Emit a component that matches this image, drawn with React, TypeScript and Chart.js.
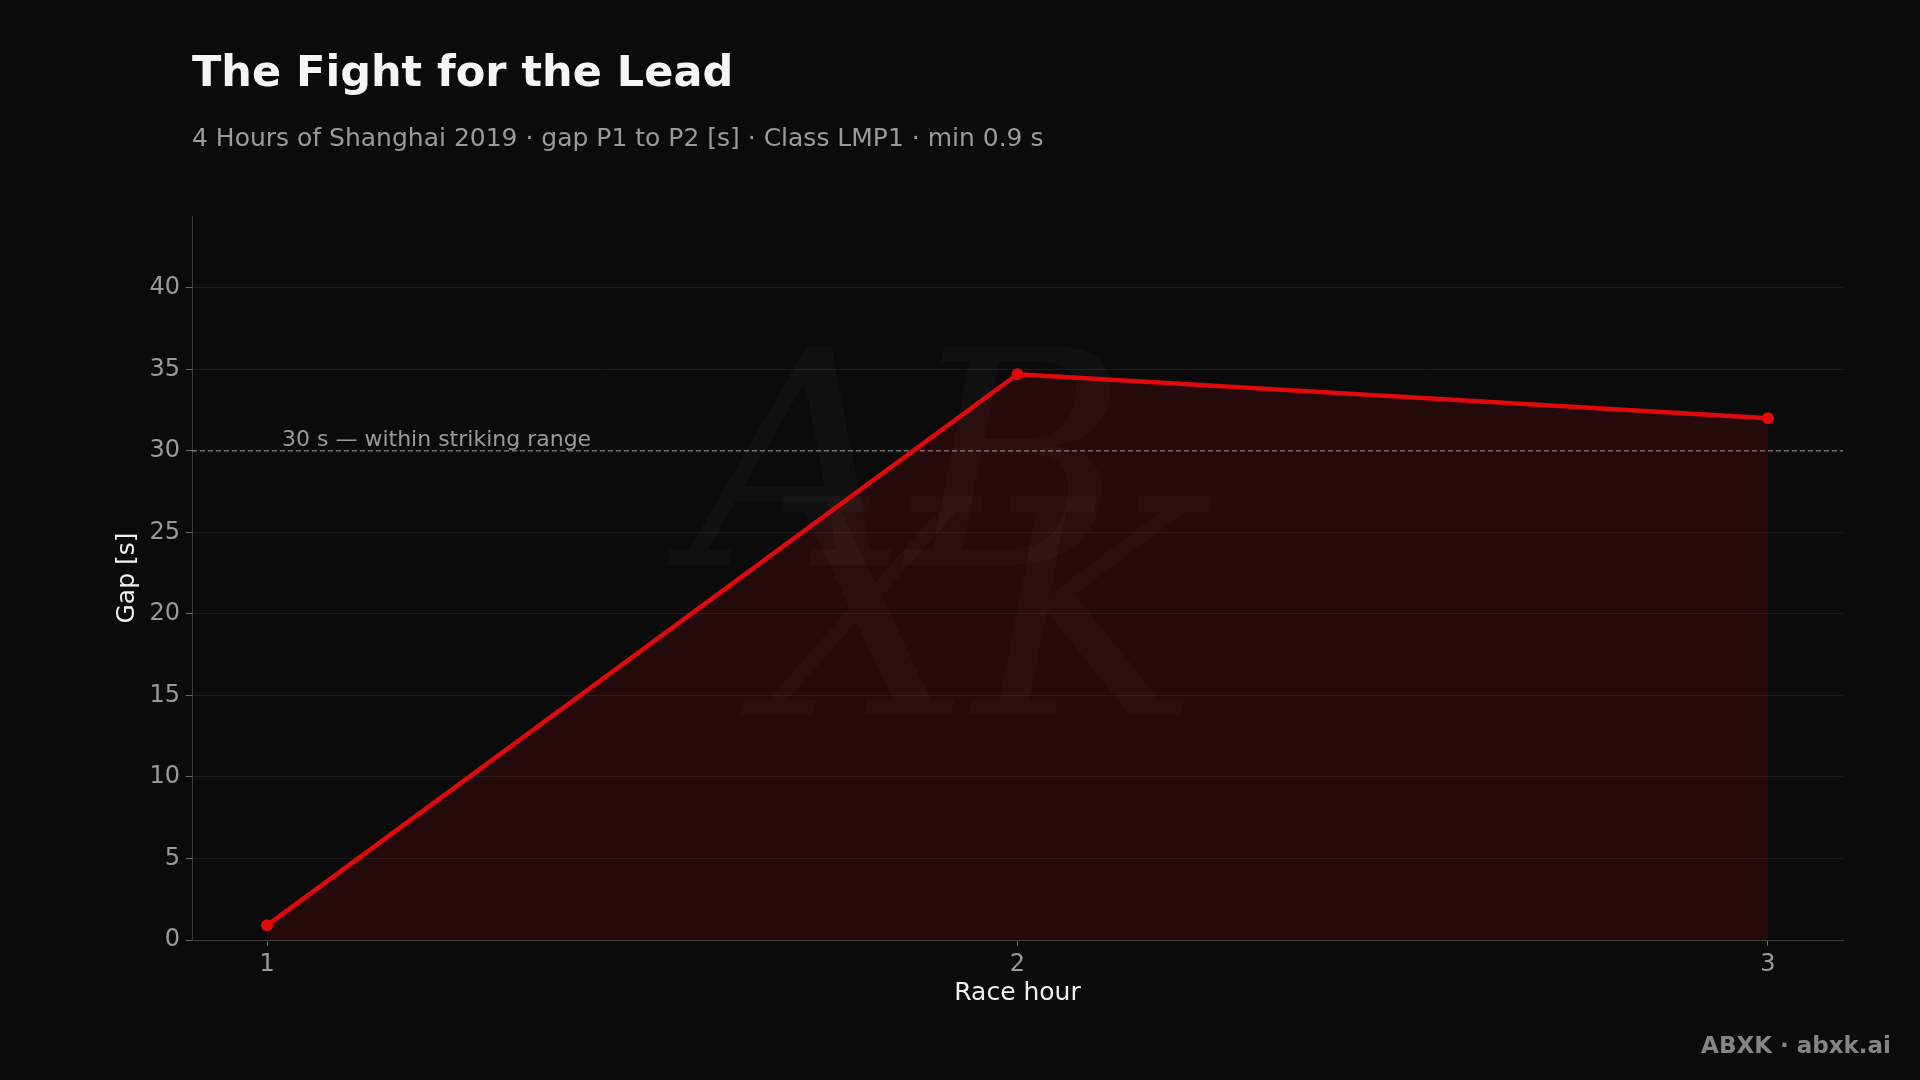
import React, { useEffect, useRef } from "react";
import { Chart, registerables } from "chart.js";

Chart.register(...registerables);

const raceHours = [1, 2, 3];
const gapSeconds = [0.9, 34.7, 32.0];
const yTickValues = [0, 5, 10, 15, 20, 25, 30, 35, 40];
const xTickValues = [1, 2, 3];
const thresholdValue = 30;
const thresholdLabel = "30 s — within striking range";
const titleText = "The Fight for the Lead";
const subtitleText = "4 Hours of Shanghai 2019 · gap P1 to P2 [s] · Class LMP1 · min 0.9 s";
const footerText = "ABXK · abxk.ai";

const FONT = "'DejaVu Sans', 'Noto Sans', sans-serif";

const decorPlugin = {
  id: "decor",
  beforeDraw(chart: any) {
    const { ctx } = chart;
    ctx.save();
    ctx.fillStyle = "#0b0b0b";
    ctx.fillRect(0, 0, chart.width, chart.height);
    ctx.restore();
  },
  beforeDatasetsDraw(chart: any) {
    const { ctx, chartArea, scales } = chart;
    const y = scales.y.getPixelForValue(thresholdValue);
    ctx.save();
    // watermark
    ctx.fillStyle = "rgba(255,255,255,0.028)";
    ctx.font = `italic 300px 'DejaVu Serif', serif`;
    ctx.textBaseline = "alphabetic";
    ctx.textAlign = "left";
    ctx.fillText("AB", 690, 565);
    ctx.fillText("XK", 760, 715);
    // threshold line
    ctx.strokeStyle = "rgba(170,170,170,0.75)";
    ctx.lineWidth = 1.2;
    ctx.setLineDash([5, 3]);
    ctx.beginPath();
    ctx.moveTo(chartArea.left, y);
    ctx.lineTo(chartArea.right, y);
    ctx.stroke();
    ctx.setLineDash([]);
    ctx.fillStyle = "#9a9a9a";
    ctx.font = `22px ${FONT}`;
    ctx.textAlign = "left";
    ctx.textBaseline = "alphabetic";
    ctx.fillText(thresholdLabel, 282, y - 5);
    ctx.restore();
  },
  afterDraw(chart: any) {
    const { ctx } = chart;
    ctx.save();
    ctx.textBaseline = "alphabetic";
    ctx.textAlign = "left";
    ctx.fillStyle = "#f5f5f5";
    ctx.font = `bold 43px ${FONT}`;
    ctx.fillText(titleText, 192, 86);
    ctx.fillStyle = "#9a9a9a";
    ctx.font = `25px ${FONT}`;
    ctx.fillText(subtitleText, 192, 146);
    ctx.textAlign = "right";
    ctx.fillStyle = "#858585";
    ctx.font = `bold 23px ${FONT}`;
    ctx.fillText(footerText, 1891, 1053);
    ctx.restore();
  },
};

export default function App() {
  const canvasRef = useRef<HTMLCanvasElement | null>(null);

  useEffect(() => {
    if (!canvasRef.current) return;
    const points = raceHours.map((h, i) => ({ x: h, y: gapSeconds[i] }));
    const chart = new Chart(canvasRef.current, {
      type: "line",
      data: {
        datasets: [
          {
            label: "Gap",
            data: points,
            borderColor: "#e00a0a",
            backgroundColor: "rgba(224,10,10,0.12)",
            borderWidth: 4.5,
            fill: "origin",
            tension: 0,
            pointRadius: 6,
            pointBackgroundColor: "#e00a0a",
            pointBorderColor: "#e00a0a",
            pointBorderWidth: 0,
          },
        ],
      },
      options: {
        responsive: false,
        animation: false,
        devicePixelRatio: 1,
        layout: { padding: { left: 100, right: 77, top: 216, bottom: 60 } },
        plugins: {
          legend: { display: false },
          tooltip: { enabled: false },
          title: { display: false },
        },
        scales: {
          x: {
            type: "linear",
            min: 0.9,
            max: 3.1,
            afterBuildTicks: (scale: any) => {
              scale.ticks = xTickValues.map((v) => ({ value: v }));
            },
            afterFit: (scale: any) => {
              scale.height = 80;
            },
            ticks: {
              stepSize: 1,
              includeBounds: false,
              color: "#9a9a9a",
              font: { family: FONT, size: 24 },
              padding: 4,
              maxRotation: 0,
            },
            grid: {
              drawOnChartArea: false,
              drawTicks: true,
              tickLength: 6,
              tickColor: "#666666",
            },
            border: { display: true, color: "#3a3a3a", width: 1 },
            title: {
              display: true,
              text: "Race hour",
              color: "#f0f0f0",
              font: { family: FONT, size: 25 },
              padding: { top: 0, bottom: 12 },
            },
          },
          y: {
            type: "linear",
            min: 0,
            max: 44.4,
            afterBuildTicks: (scale: any) => {
              scale.ticks = yTickValues.map((v) => ({ value: v }));
            },
            afterFit: (scale: any) => {
              scale.width = 92;
            },
            ticks: {
              stepSize: 5,
              includeBounds: false,
              color: "#9a9a9a",
              font: { family: FONT, size: 24 },
              padding: 6,
            },
            grid: {
              color: "rgba(255,255,255,0.07)",
              lineWidth: 1,
              drawTicks: true,
              tickLength: 6,
              tickColor: "#666666",
            },
            border: { display: true, color: "#3a3a3a", width: 1 },
            title: {
              display: true,
              text: "Gap [s]",
              color: "#f0f0f0",
              font: { family: FONT, size: 25 },
              padding: { top: 12, bottom: 0 },
            },
          },
        },
      },
      plugins: [decorPlugin],
    });
    return () => chart.destroy();
  }, []);

  return (
    <div
      style={{
        position: "absolute",
        left: 0,
        top: 0,
        width: 1920,
        height: 1080,
        background: "#0b0b0b",
      }}
    >
      <canvas ref={canvasRef} width={1920} height={1080} style={{ display: "block" }} />
    </div>
  );
}
